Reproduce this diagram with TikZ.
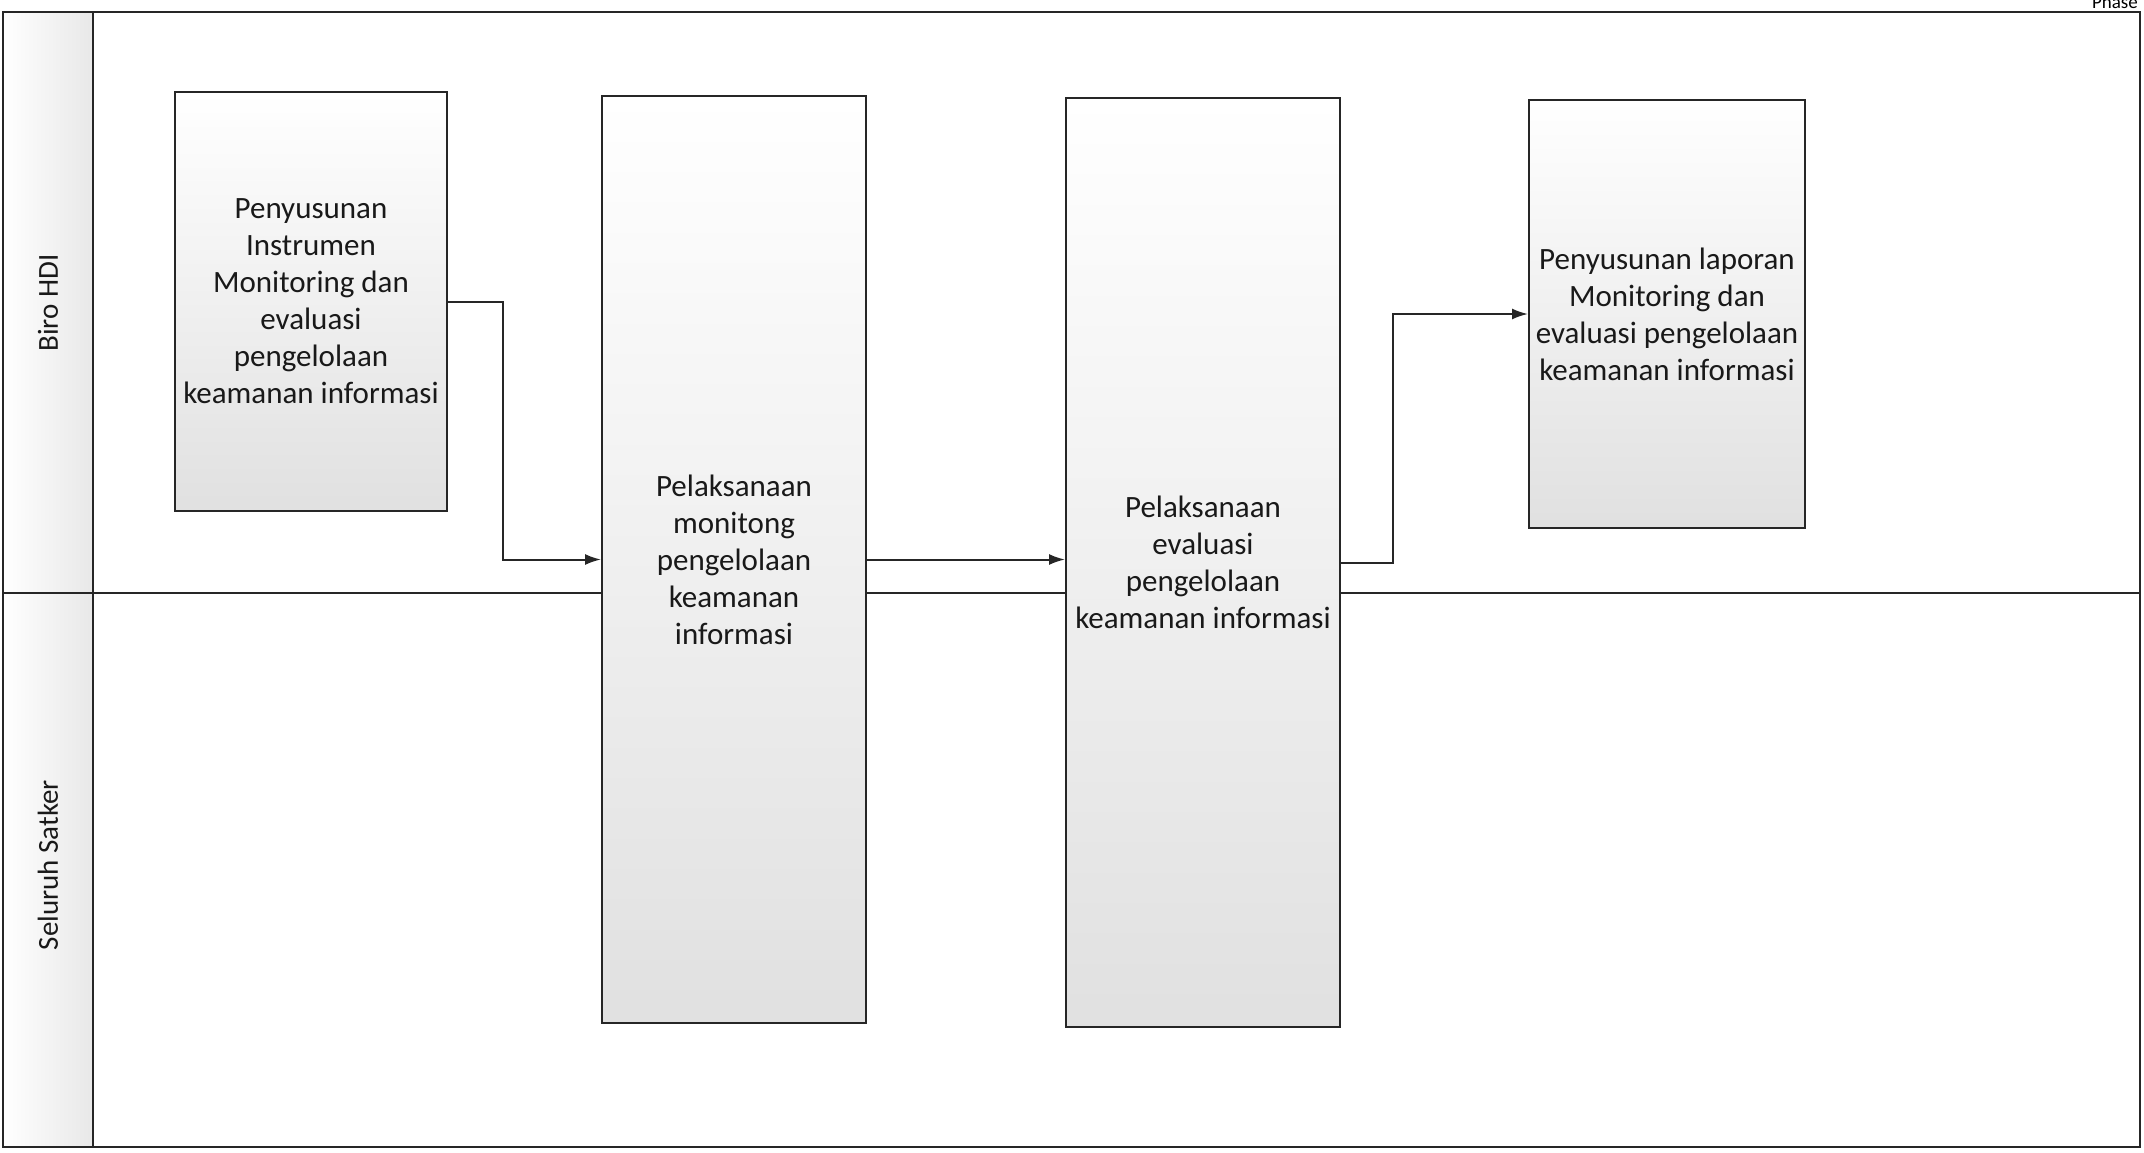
\documentclass[tikz,border=0pt]{standalone}
\usepackage{fontspec}
\setmainfont{Carlito}
\usetikzlibrary{arrows.meta}
\begin{document}
\begin{tikzpicture}[x=1pt,y=-1pt,
  frame/.style={draw=black!85, line width=2.2pt},
  lanehead/.style={left color=white, right color=black!9},
  lanelabel/.style={rotate=90, font=\fontsize{29}{34}\selectfont, text=black!90},
  proc/.style={draw=black!85, line width=2pt, top color=white, middle color=white, bottom color=black!12,
    align=center, inner sep=1pt, font=\fontsize{31}{37}\selectfont, text=black!90},
  flow/.style={draw=black!85, line width=2pt, -{Latex[length=16pt,width=11pt]}}
]
\useasboundingbox (0,0) rectangle (2144,1153);
\fill[white] (0,0) rectangle (2144,1153);
% lane header cells
\fill[lanehead] (3,12) rectangle (93,593);
\fill[lanehead] (3,593) rectangle (93,1147);
% frame
\draw[frame] (3,12) rectangle (2140,1147);
\draw[frame] (93,12) -- (93,1147);
\draw[frame, line width=1.8pt] (3,593) -- (2140,593);
% phase label (cut off at the top, as in the source)
\node[anchor=base east, font=\fontsize{19}{22}\selectfont, inner sep=0pt] (phase) at (2138,9) {Phase};
% lane labels
\node[lanelabel] (lane1) at (48,303) {Biro HDI};
\node[lanelabel] (lane2) at (48,865) {Seluruh Satker};
% process boxes
\node[proc, minimum width=272pt, minimum height=419pt] (b1) at (311,301.5)
  {Penyusunan\\Instrumen\\Monitoring dan\\evaluasi\\pengelolaan\\keamanan informasi};
\node[proc, minimum width=264pt, minimum height=927pt] (b2) at (734,559.5)
  {Pelaksanaan\\monitong\\pengelolaan\\keamanan\\informasi};
\node[proc, minimum width=274pt, minimum height=929pt] (b3) at (1203,562.5)
  {Pelaksanaan\\evaluasi\\pengelolaan\\keamanan informasi};
\node[proc, minimum width=276pt, minimum height=428pt] (b4) at (1667,314)
  {Penyusunan laporan\\Monitoring dan\\evaluasi pengelolaan\\keamanan informasi};
% connectors
\draw[flow] (b1.east) -- ++(55,0) |- (b2.west);
\draw[flow] (b2.east) -- (b2.east -| b3.west);
\draw[flow] (b3.east) -- ++(52,0) |- (b4.west);
\end{tikzpicture}
\end{document}
